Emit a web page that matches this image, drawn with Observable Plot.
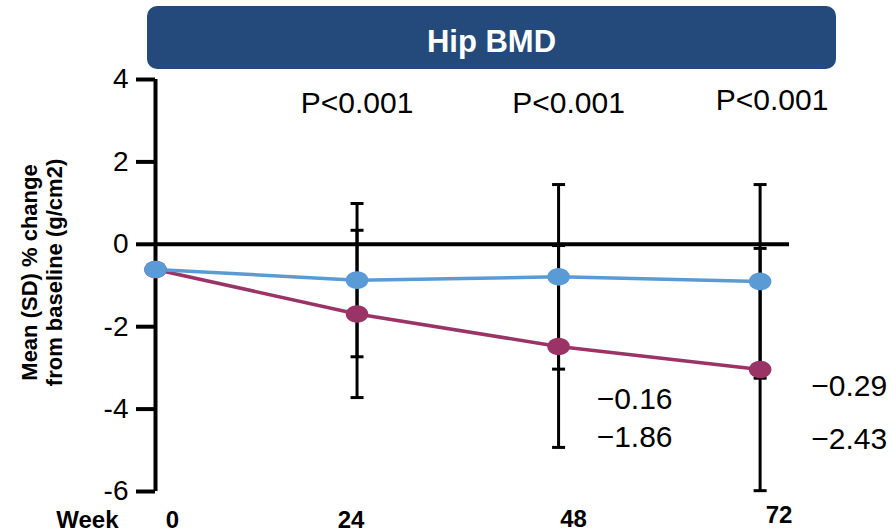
<!DOCTYPE html>
<html>
<head>
<meta charset="utf-8">
<script src="https://cdn.jsdelivr.net/npm/d3@7"></script>
<script src="https://cdn.jsdelivr.net/npm/@observablehq/plot@0.6"></script>
<style>
  html, body { margin: 0; padding: 0; background: #ffffff; }
  #wrap { position: relative; width: 891px; height: 531px; font-family: "Liberation Sans", Arial, sans-serif; }
  #header {
    position: absolute; left: 147px; top: 6px; width: 689px; height: 63px;
    background: #234a7b; border-radius: 10px; color: #ffffff;
    font-weight: bold; font-size: 31px; line-height: 71px; text-align: center;
  }
  #chart { position: absolute; left: 0; top: 0; }
</style>
</head>
<body>
<div id="wrap">
  <div id="chart"></div>
  <div id="header">Hip BMD</div>
</div>
<script>
// Visit weeks and their axis labels
const weeks = [0, 24, 48, 72];
const weekLabels = ["0", "24", "48", "72"];

// Mean (SD) % change from baseline, per arm
const armAMean = [-0.61, -0.87, -0.79, -0.90];
const armASD   = [0, 1.86, 2.24, 2.35];
const armBMean = [-0.61, -1.69, -2.48, -3.04];
const armBSD   = [0, 2.03, 2.45, 2.94];

// Y ticks
const yTicks = [-6, -4, -2, 0, 2, 4];

// Between-arm p-values
const pWeeks = [24, 48, 72];
const pLabels = ["P<0.001", "P<0.001", "P<0.001"];

// Side notes at weeks 48 and 72
const noteWeeks = [48, 72];
const noteUpper = ["\u22120.16", "\u22120.29"];
const noteLower = ["\u22121.86", "\u22122.43"];

const yTitle = "Mean (SD) % change\nfrom baseline (g/cm2)";

const colorA = "#5b9bd5";
const colorB = "#9a3366";

const rowsA = weeks.map((w, i) => ({week: w, mean: armAMean[i], sd: armASD[i]}));
const rowsB = weeks.map((w, i) => ({week: w, mean: armBMean[i], sd: armBSD[i]}));
const withSD = rows => rows.filter(d => d.sd > 0);
const caps = rows => withSD(rows).flatMap(d => [
  {week: d.week, v: d.mean - d.sd},
  {week: d.week, v: d.mean + d.sd}
]);

// Slightly wide ellipse for the markers
const ellipse = {
  draw(context, size) {
    const r = Math.sqrt(size / Math.PI);
    const rx = r * 1.13, ry = r * 0.88, k = 0.5523;
    context.moveTo(rx, 0);
    context.bezierCurveTo(rx, k * ry, k * rx, ry, 0, ry);
    context.bezierCurveTo(-k * rx, ry, -rx, k * ry, -rx, 0);
    context.bezierCurveTo(-rx, -k * ry, -k * rx, -ry, 0, -ry);
    context.bezierCurveTo(k * rx, -ry, rx, -k * ry, rx, 0);
    context.closePath();
  }
};
// Short horizontal stroke for error-bar caps
const capLine = {
  draw(context, size) {
    const w = Math.sqrt(size);
    context.moveTo(-w / 2, 0);
    context.lineTo(w / 2, 0);
  }
};

// Small per-label nudges for the week labels and p-values
const weekNudgeX = [17, -6, 15, 19];
const weekNudgeY = [0, 0, -1, -5];
const pNudgeX = [0, 10, 12];
const pNudgeY = [0, 0, -3];

const errorMarks = rows => [
  Plot.ruleX(withSD(rows), {x: "week", y1: d => d.mean - d.sd, y2: d => d.mean + d.sd, stroke: "black", strokeWidth: 3}),
  Plot.dot(caps(rows), {x: "week", y: "v", symbol: capLine, r: Math.sqrt(169 / Math.PI), stroke: "black", strokeWidth: 3, fill: "none"})
];

const noteText = (labels, dyByIndex) => noteWeeks.map((w, i) => Plot.text([w], {
  x: d => d, frameAnchor: "top", lineAnchor: "top", text: () => labels[i], fontSize: 30,
  textAnchor: "end", dx: i === 0 ? 114 : 127, dy: dyByIndex[i]
}));

const chart = Plot.plot({
  width: 891,
  height: 531,
  marginLeft: 155,
  marginRight: 102,
  marginTop: 79,
  marginBottom: 40,
  x: {domain: [0, 75.5], axis: null},
  y: {domain: [-6, 4]},
  style: {fontFamily: "'Liberation Sans', Arial, sans-serif", color: "black", background: "transparent", overflow: "visible"},
  marks: [
    Plot.axisY({ticks: yTicks, tickSize: 19, tickPadding: 8, fontSize: 28, strokeWidth: 4, tickFormat: d => String(d), label: null}),
    Plot.ruleY([0], {stroke: "black", strokeWidth: 4}),
    Plot.ruleX([0], {stroke: "black", strokeWidth: 4}),
    ...errorMarks(rowsA),
    ...errorMarks(rowsB),
    Plot.line(rowsB, {x: "week", y: "mean", stroke: colorB, strokeWidth: 3.5}),
    Plot.line(rowsA, {x: "week", y: "mean", stroke: colorA, strokeWidth: 3.5}),
    Plot.dot(rowsB, {x: "week", y: "mean", symbol: ellipse, r: 10, fill: colorB}),
    Plot.dot(rowsA, {x: "week", y: "mean", symbol: ellipse, r: 10, fill: colorA}),
    // p-values
    ...pWeeks.map((w, i) => Plot.text([w], {x: d => d, frameAnchor: "top", lineAnchor: "top", text: () => pLabels[i], fontSize: 30, dx: pNudgeX[i], dy: 11.7 + pNudgeY[i]})),
    // side notes
    ...noteText(noteUpper, [307.7, 294.7]),
    ...noteText(noteLower, [345.7, 347.7]),
    // x labels
    Plot.text(["Week"], {frameAnchor: "bottom-left", text: d => d, textAnchor: "end", dx: -37, dy: 36, fontSize: 24, fontWeight: "bold"}),
    ...weeks.map((w, i) => Plot.text([w], {x: d => d, frameAnchor: "bottom", text: () => weekLabels[i], fontSize: 24, fontWeight: "bold", dx: weekNudgeX[i], dy: 36 + weekNudgeY[i]})),
    // y title
    Plot.text([yTitle], {frameAnchor: "left", text: d => d, textAnchor: "middle", rotate: -90, dx: -114, dy: -13, fontSize: 22, fontWeight: "bold", lineHeight: 1.14})
  ]
});
document.getElementById("chart").appendChild(chart);
</script>
</body>
</html>
